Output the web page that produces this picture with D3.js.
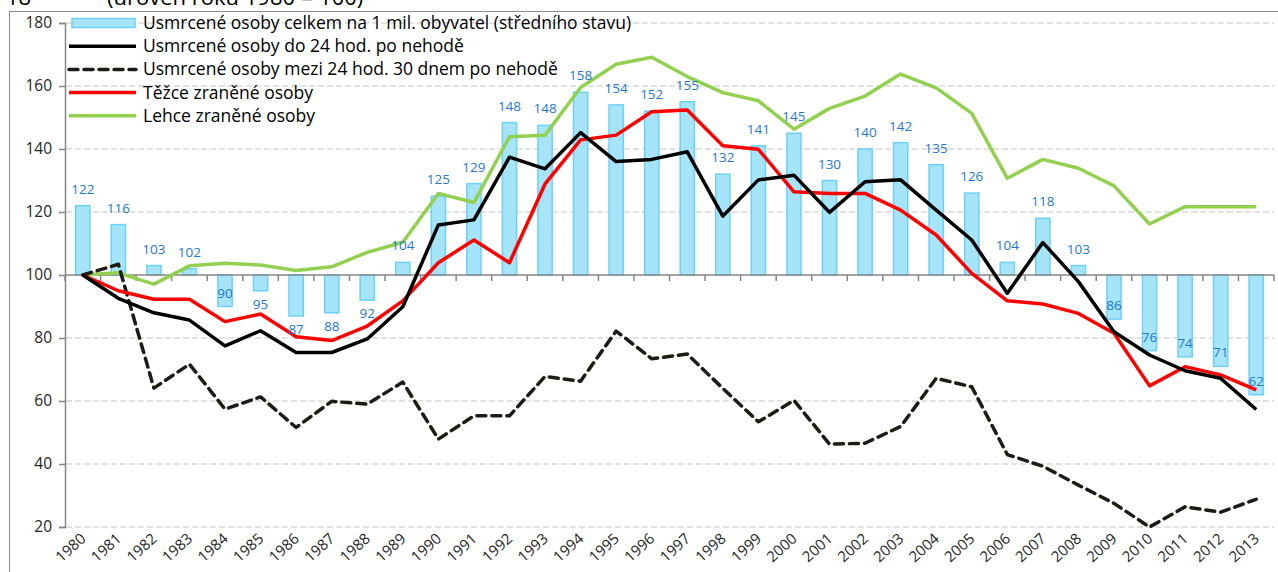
<!DOCTYPE html>
<html>
<head>
<meta charset="utf-8">
<style>
  html, body { margin: 0; padding: 0; background: #fff; }
  svg { display: block; font-family: "Open Sans", "Noto Sans", sans-serif; }
</style>
<script src="https://d3js.org/d3.v7.min.js"></script>
</head>
<body>
<div id="chart"></div>
<script>
// years on the category axis
const years = d3.range(1980, 2014).map(String);

// bars: killed per 1 mil. inhabitants (index, 1980 = 100)
const barValues = [122, 116, 103, 102, 90, 95, 87, 88, 92, 104,
  125, 129, 148.4, 147.5, 158, 154, 152, 155, 132, 141,
  145, 130, 140, 142, 135, 126, 104, 118, 103, 86,
  76, 74, 71, 62];

// killed within 24 h
const killed24 = [100, 92.6, 88.0, 85.7, 77.5, 82.3, 75.4, 75.4, 79.7, 89.9,
  115.9, 117.5, 137.4, 133.7, 145.2, 136.0, 136.7, 139.1, 118.7, 130.2,
  131.7, 119.9, 129.6, 130.2, 120.6, 111.1, 94.2, 110.3, 97.9, 82.0,
  74.6, 69.6, 67.2, 57.3];

// killed between 24 h and 30 days
const killed30 = [100, 103.4, 64.1, 71.7, 57.4, 61.3, 51.6, 59.9, 59.0, 66.0,
  47.9, 55.3, 55.3, 67.8, 66.3, 82.2, 73.4, 74.9, 64.0, 53.4,
  60.2, 46.3, 46.6, 51.9, 67.2, 64.5, 43.0, 39.3, 33.3, 27.5,
  20.0, 26.4, 24.7, 28.8];

// seriously injured
const seriouslyInjured = [100, 95.0, 92.3, 92.3, 85.2, 87.6, 80.4, 79.2, 83.8, 91.8,
  103.9, 111.1, 103.9, 128.9, 142.9, 144.4, 151.8, 152.4, 141.0, 139.9,
  126.4, 125.9, 125.9, 120.6, 112.7, 100.5, 91.8, 90.8, 87.8, 81.5,
  64.8, 70.9, 68.3, 63.5];

// slightly injured
const slightlyInjured = [100, 100.7, 97.1, 102.9, 103.7, 103.2, 101.4, 102.6, 107.2, 110.4,
  125.9, 123.0, 143.9, 144.4, 159.5, 166.9, 169.1, 163.0, 157.9, 155.3,
  146.3, 152.9, 156.8, 163.8, 159.4, 151.3, 130.7, 136.7, 133.9, 128.3,
  116.2, 121.7, 121.7, 121.7];

const yTicks = [20, 40, 60, 80, 100, 120, 140, 160, 180];

// labels that sit inside the bar end instead of outside
const insideLabelYears = ["1984", "2009", "2010", "2011", "2012", "2013"];

const legendLabels = [
  "Usmrcené osoby celkem na 1 mil. obyvatel (středního stavu)",
  "Usmrcené osoby do 24 hod. po nehodě",
  "Usmrcené osoby mezi 24 hod. 30 dnem po nehodě",
  "Těžce zraněné osoby",
  "Lehce zraněné osoby"
];

const width = 1278, height = 572;
const baseValue = 100;

const svg = d3.select("#chart").append("svg")
  .attr("width", width)
  .attr("height", height);

// chart frame + title (cut off at the top, like the source)
svg.append("rect")
  .attr("x", 9.5).attr("y", 11.5)
  .attr("width", width).attr("height", height)
  .attr("fill", "none").attr("stroke", "#8c8c8c").attr("stroke-width", 1);

svg.append("text").attr("x", 6).attr("y", 5)
  .attr("font-size", 22).attr("fill", "#000").text("18");
svg.append("text").attr("x", 107).attr("y", 5)
  .attr("font-size", 22).attr("fill", "#000").text("(úroveň roku 1980 = 100)");

const x = d3.scaleBand()
  .domain(years)
  .range([65, 1274])
  .paddingInner(0.6)
  .paddingOuter(0.3);

const y = d3.scaleLinear()
  .domain([20, 180])
  .range([527, 23]);

const cx = d => x(d) + x.bandwidth() / 2;

// horizontal dashed gridlines
svg.append("g")
  .selectAll("line")
  .data(yTicks.filter(t => t !== baseValue))
  .join("line")
    .attr("x1", 66).attr("x2", 1274)
    .attr("y1", d => y(d)).attr("y2", d => y(d))
    .attr("stroke", "#d9d9d9")
    .attr("stroke-width", 1.5)
    .attr("stroke-dasharray", "6,3");

// y axis
const yAxis = svg.append("g")
  .attr("transform", "translate(65,0)")
  .call(d3.axisLeft(y).tickValues(yTicks).tickSize(6).tickPadding(7));
yAxis.select(".domain").attr("stroke", "#868686").attr("stroke-width", 1.5);
yAxis.selectAll(".tick line").attr("stroke", "#868686").attr("stroke-width", 1.5);
yAxis.selectAll(".tick text")
  .attr("font-size", 15.5)
  .attr("font-family", "Open Sans, sans-serif")
  .attr("fill", "#262626");

// bars from the 100 baseline
svg.append("g")
  .selectAll("rect")
  .data(years)
  .join("rect")
    .attr("x", d => x(d))
    .attr("width", x.bandwidth())
    .attr("y", (d, i) => y(Math.max(barValues[i], baseValue)))
    .attr("height", (d, i) => Math.abs(y(barValues[i]) - y(baseValue)))
    .attr("fill", "#a6e4fa")
    .attr("stroke", "#6dd0f6")
    .attr("stroke-width", 1.5);

// category axis sitting on the 100 line
const xAxis = svg.append("g")
  .attr("transform", `translate(0,${y(baseValue)})`);
xAxis.append("line")
  .attr("x1", 65).attr("x2", 1274)
  .attr("stroke", "#868686").attr("stroke-width", 1.5);
xAxis.selectAll("line.tk")
  .data(d3.range(years.length + 1))
  .join("line")
    .attr("class", "tk")
    .attr("x1", i => 65 + i * x.step())
    .attr("x2", i => 65 + i * x.step())
    .attr("y1", 0).attr("y2", 6)
    .attr("stroke", "#868686").attr("stroke-width", 1.5);

// year labels at the bottom
svg.append("g")
  .selectAll("text")
  .data(years)
  .join("text")
    .attr("transform", d => `translate(${cx(d) + 4},${y(20) + 13}) rotate(-42)`)
    .attr("text-anchor", "end")
    .attr("font-size", 15)
    .attr("fill", "#262626")
    .text(d => d);

// lines
const lineGen = vals => d3.line()
  .x((d, i) => cx(years[i]))
  .y(d => y(d))(vals);

const series = [
  { values: slightlyInjured, color: "#92d050", dash: null },
  { values: killed30, color: "#1c1c14", dash: "9,6" },
  { values: seriouslyInjured, color: "#ff0000", dash: null },
  { values: killed24, color: "#000000", dash: null }
];

svg.append("g")
  .selectAll("path")
  .data(series)
  .join("path")
    .attr("d", d => lineGen(d.values))
    .attr("fill", "none")
    .attr("stroke", d => d.color)
    .attr("stroke-width", 3.5)
    .attr("stroke-linejoin", "round")
    .attr("stroke-linecap", d => d.dash ? "round" : "butt")
    .attr("stroke-dasharray", d => d.dash);

// data labels for the bars
svg.append("g")
  .selectAll("text")
  .data(years)
  .join("text")
    .attr("x", d => cx(d))
    .attr("y", (d, i) => {
      const v = barValues[i];
      if (v >= baseValue) return y(v) - 12;
      if (insideLabelYears.includes(d)) return y(v) - 9;
      return y(v) + 18;
    })
    .attr("text-anchor", "middle")
    .attr("font-size", 13.5)
    .attr("fill", "#1f78cc")
    .text((d, i) => Math.round(barValues[i]));

// legend
const legendStyles = [
  { type: "bar" },
  { type: "line", color: "#000000", dash: null },
  { type: "line", color: "#1c1c14", dash: "9,6" },
  { type: "line", color: "#ff0000", dash: null },
  { type: "line", color: "#92d050", dash: null }
];
const legend = svg.append("g");
legendLabels.forEach((label, i) => {
  const ly = 23 + i * 23.2;
  const st = legendStyles[i];
  if (st.type === "bar") {
    legend.append("rect")
      .attr("x", 72).attr("y", ly - 4.5)
      .attr("width", 63).attr("height", 9)
      .attr("fill", "#a6e4fa").attr("stroke", "#6dd0f6").attr("stroke-width", 1.5);
  } else {
    legend.append("line")
      .attr("x1", 69).attr("x2", 136)
      .attr("y1", ly).attr("y2", ly)
      .attr("stroke", st.color).attr("stroke-width", 3.5)
      .attr("stroke-linecap", st.dash ? "round" : "butt")
      .attr("stroke-dasharray", st.dash);
  }
  legend.append("text")
    .attr("x", 143).attr("y", ly + 6)
    .attr("font-size", 17.5)
    .attr("fill", "#000")
    .text(label);
});
</script>
</body>
</html>
